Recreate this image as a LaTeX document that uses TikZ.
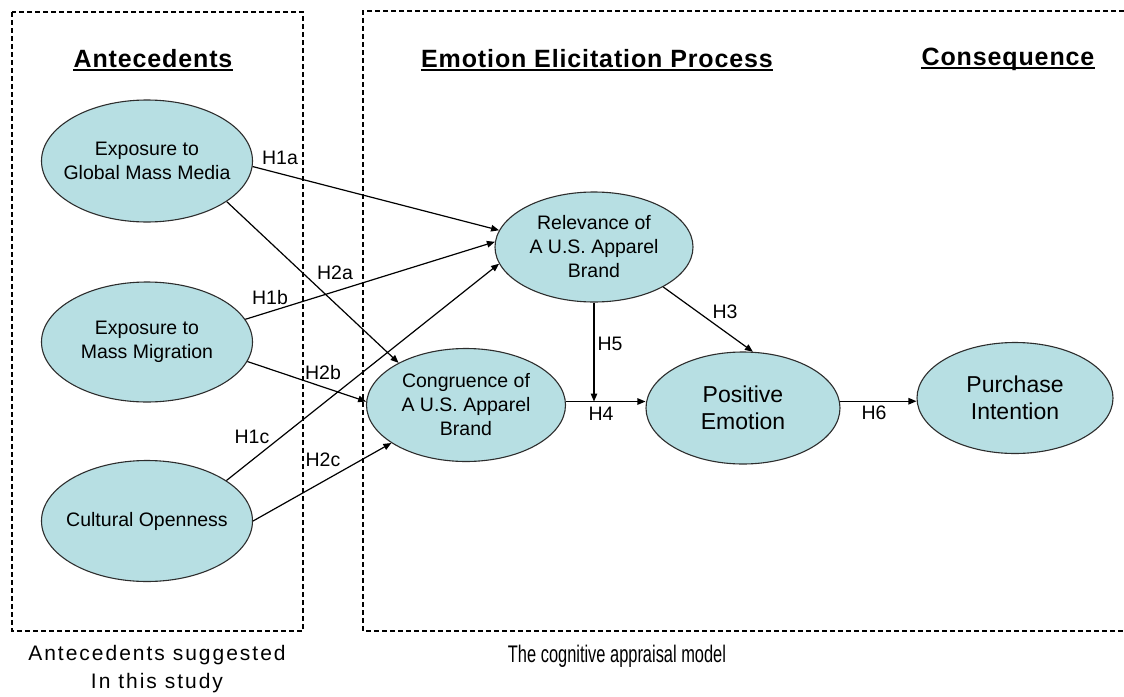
\documentclass[tikz,border=0pt]{standalone}
\usepackage{fontspec}
\usepackage{graphicx}
\setmainfont{Liberation Sans}
\newfontfamily\headfont[LetterSpace=3.5]{Liberation Sans}
\newfontfamily\capfont[LetterSpace=9.5]{Liberation Sans}
\usetikzlibrary{shapes.geometric,arrows.meta}
\definecolor{ellfill}{RGB}{183,223,227}
\definecolor{ellline}{RGB}{45,45,45}
\begin{document}
\begin{tikzpicture}[x=1pt,y=-1pt,
  ell/.style={ellipse,draw=ellline,line width=1.1pt,fill=ellfill,inner sep=0pt},
  etext/.style={inner sep=0pt,align=center,font=\fontsize{19.5}{24}\selectfont},
  ebig/.style={inner sep=0pt,align=center,font=\fontsize{23}{27}\selectfont},
  arr/.style={-{Triangle[length=8pt,width=6.5pt]},line width=1.2pt},
  hyp/.style={inner sep=0pt,font=\fontsize{19.5}{23}\selectfont},
  head/.style={inner sep=0pt,font=\headfont\bfseries\fontsize{25}{30}\selectfont},
  capt/.style={inner sep=0pt,anchor=base,font=\capfont\fontsize{21}{25}\selectfont},
  box/.style={draw,line width=1.1pt,dash pattern=on 5pt off 3pt},
  uline/.style={line width=2pt}
]
\useasboundingbox (0,0) rectangle (1124,696);
\fill[white] (0,0) rectangle (1124,696);

% dashed frames
\draw[box] (12,12) rectangle (303,631);
\draw[box] (1124,11) -- (363,11) -- (363,631) -- (1124,631);

% headings
\node[head] (hA) at (153,59) {Antecedents};
\node[head] (hE) at (597,59) {Emotion Elicitation Process};
\node[head] (hC) at (1008,59) {Consequence};
\foreach \h in {hA,hE,hC}{
  \draw[uline] ([yshift=-2.5pt]\h.base west) -- ([yshift=-2.5pt]\h.base east);
}

% ellipses
\node[ell,minimum width=211pt,minimum height=122pt,
  label={[etext]center:{Exposure to\\Global Mass Media}}] (e1) at (147,161) {};
\node[ell,minimum width=211pt,minimum height=120pt,
  label={[etext]center:{Exposure to\\Mass Migration}}] (e2) at (147,342) {};
\node[ell,minimum width=211pt,minimum height=121pt,
  label={[etext]center:{Cultural Openness}}] (e3) at (147,521) {};
\node[ell,minimum width=198pt,minimum height=110pt,
  label={[etext]center:{Relevance of\\A U.S. Apparel\\Brand}}] (rel) at (594,247) {};
\node[ell,minimum width=199pt,minimum height=113pt,
  label={[etext]center:{Congruence of\\A U.S. Apparel\\Brand}}] (cong) at (466,405) {};
\node[ell,minimum width=194pt,minimum height=112pt,
  label={[ebig]center:{Positive\\Emotion}}] (pos) at (743,408) {};
\node[ell,minimum width=196pt,minimum height=111pt,
  label={[ebig]center:{Purchase\\Intention}}] (pi) at (1015,398) {};

% connectors
\draw[arr] (e1.-3) -- (rel.170);
\draw[arr] (e2.13.6) -- (rel.177.7);
\draw[arr] (e3.27.7) -- (rel.190);
\draw[arr] (e1.-27.4) -- (cong.148.3);
\draw[arr] (e2.-11.9) -- (cong.178.3);
\draw[arr] (e3.0) -- (cong.207);
\draw[arr] (rel.-30) -- (pos.80);
\draw[arr] (cong.2) -- (cong.2 -| pos.west);
\draw[arr] (rel.south) -- (rel.south |- cong.2);
\draw[arr] (pos.4) -- (pos.4 -| pi.west);

% hypothesis labels
\node[hyp] (l1a) at (280,158) {H1a};
\node[hyp] (l2a) at (335,273) {H2a};
\node[hyp] (l1b) at (270,298) {H1b};
\node[hyp] (l2b) at (323,373) {H2b};
\node[hyp] (l1c) at (252,437) {H1c};
\node[hyp] (l2c) at (323,460) {H2c};
\node[hyp] (l3) at (725,312) {H3};
\node[hyp] (l5) at (610,344) {H5};
\node[hyp] (l4) at (601,414) {H4};
\node[hyp] (l6) at (874,413) {H6};

% captions
\node[capt] (c1) at (157,660) {Antecedents suggested};
\node[capt] (c2) at (157,688) {In this study};
\node[inner sep=0pt,anchor=base,font=\fontsize{24}{28}\selectfont] (c3) at (617,662) {\scalebox{0.684}[1]{The cognitive appraisal model}};
\end{tikzpicture}
\end{document}
